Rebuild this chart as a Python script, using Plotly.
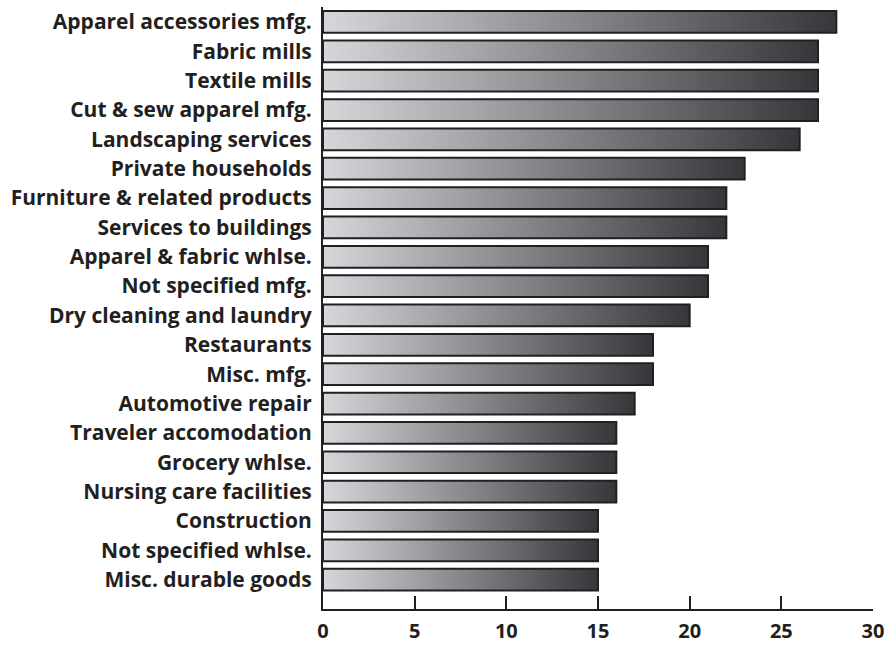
import plotly.graph_objects as go

# Industries, listed top to bottom, with their values
industries = [
    "Apparel accessories mfg.",
    "Fabric mills",
    "Textile mills",
    "Cut & sew apparel mfg.",
    "Landscaping services",
    "Private households",
    "Furniture & related products",
    "Services to buildings",
    "Apparel & fabric whlse.",
    "Not specified mfg.",
    "Dry cleaning and laundry",
    "Restaurants",
    "Misc. mfg.",
    "Automotive repair",
    "Traveler accomodation",
    "Grocery whlse.",
    "Nursing care facilities",
    "Construction",
    "Not specified whlse.",
    "Misc. durable goods",
]
values = [28, 27, 27, 27, 26, 23, 22, 22, 21, 21, 20, 18, 18, 17, 16, 16, 16, 15, 15, 15]
x_ticks = [0, 5, 10, 15, 20, 25, 30]

INK = "#231f20"
LIGHT = (213, 214, 217)
DARK = (56, 56, 60)
BAR_W = 0.74
STEPS = 80

fig = go.Figure()

# Horizontal gradient: overlay bars from full length (darkest) down to the
# shortest slice (lightest), each proportional to its bar's own value.
for k in range(STEPS, 0, -1):
    t = (k - 1) / (STEPS - 1)
    r, g, b = (round(LIGHT[i] + (DARK[i] - LIGHT[i]) * t) for i in range(3))
    fig.add_trace(go.Bar(
        y=industries,
        x=[v * k / STEPS for v in values],
        orientation="h",
        width=BAR_W,
        marker=dict(color=f"rgb({r},{g},{b})", line=dict(width=0)),
        hoverinfo="skip",
        showlegend=False,
    ))

# Outline of each bar
fig.add_trace(go.Bar(
    y=industries,
    x=values,
    orientation="h",
    width=BAR_W,
    marker=dict(color="rgba(0,0,0,0)", line=dict(color=INK, width=2)),
    showlegend=False,
))

font_main = dict(family="Open Sans", size=21, color=INK, weight="bold")
font_ticks = dict(family="Open Sans", size=20, color=INK, weight="bold")

fig.update_layout(
    barmode="overlay",
    width=886,
    height=647,
    margin=dict(l=323, r=13, t=7, b=38, autoexpand=False),
    paper_bgcolor="white",
    plot_bgcolor="white",
    font=font_main,
    showlegend=False,
    xaxis=dict(
        range=[0, 30],
        tickvals=x_ticks,
        ticks="inside",
        ticklen=13,
        tickwidth=2,
        tickcolor=INK,
        showline=True,
        linewidth=2,
        linecolor=INK,
        showgrid=False,
        zeroline=False,
        automargin=False,
        tickfont=font_ticks,
        ticklabelstandoff=3,
    ),
    yaxis=dict(
        type="category",
        categoryorder="array",
        categoryarray=industries,
        range=[len(industries) - 0.0, -0.51],
        showline=True,
        linewidth=2,
        linecolor=INK,
        showgrid=False,
        zeroline=False,
        automargin=False,
        ticks="",
        tickfont=font_main,
        ticklabelstandoff=5,
    ),
)

fig.write_html("out.html")
